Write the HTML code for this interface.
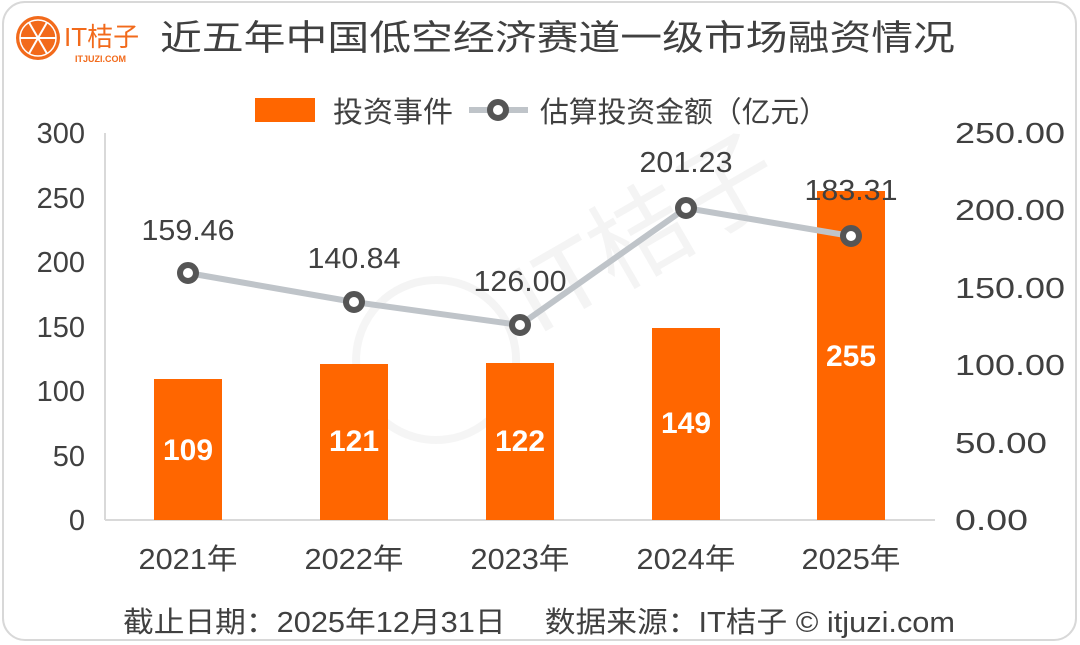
<!DOCTYPE html>
<html><head><meta charset="utf-8"><style>
html,body{margin:0;padding:0;background:#fff;}
svg{display:block;font-family:"Liberation Sans","Noto Sans CJK SC",sans-serif;}
</style></head><body>
<svg width="1080" height="645" viewBox="0 0 1080 645" xmlns="http://www.w3.org/2000/svg">
<rect x="3" y="2" width="1073" height="638" rx="22" fill="#fff" stroke="#d8d8d8" stroke-width="2"/>
<g transform="translate(38,38)">
<circle r="22" fill="#f26a1b"/>
<circle r="18" fill="none" stroke="#fff" stroke-width="1.5"/>
<g stroke="#fff" stroke-width="2">
<line x1="-18" y1="0" x2="18" y2="0"/>
<line x1="-9" y1="-15.6" x2="9" y2="15.6"/>
<line x1="9" y1="-15.6" x2="-9" y2="15.6"/>
</g>
</g>
<text x="64" y="46" font-size="26" fill="#f26a1b">IT桔子</text>
<text x="75" y="62" font-size="9" fill="#f26a1b" font-weight="bold">ITJUZI.COM</text>
<text x="160" y="50" font-size="35" fill="#404040" textLength="795" lengthAdjust="spacingAndGlyphs">近五年中国低空经济赛道一级市场融资情况</text>
<rect x="255" y="98" width="60" height="24" fill="#ff6600"/>
<text x="333" y="122" font-size="29" fill="#404040" textLength="120" lengthAdjust="spacingAndGlyphs">投资事件</text>
<line x1="469" y1="110" x2="528" y2="110" stroke="#bfc4c9" stroke-width="6"/>
<circle cx="498" cy="110" r="8" fill="#fff" stroke="#555" stroke-width="6"/>
<text x="540" y="122" font-size="29" fill="#404040" textLength="288" lengthAdjust="spacingAndGlyphs">估算投资金额（亿元）</text>
<line x1="105" y1="133" x2="105" y2="520" stroke="#d9d9d9" stroke-width="2"/>
<line x1="105" y1="520" x2="935" y2="520" stroke="#d9d9d9" stroke-width="2"/>
<g font-size="29" fill="#404040" text-anchor="end">
<text x="85" y="530">0</text><text x="85" y="466">50</text><text x="85" y="401">100</text>
<text x="85" y="337">150</text><text x="85" y="272">200</text><text x="85" y="208">250</text><text x="85" y="143">300</text>
</g>
<g font-size="29" fill="#404040">
<text x="955" y="530" textLength="73" lengthAdjust="spacingAndGlyphs">0.00</text>
<text x="955" y="453" textLength="92" lengthAdjust="spacingAndGlyphs">50.00</text>
<text x="955" y="375" textLength="110" lengthAdjust="spacingAndGlyphs">100.00</text>
<text x="955" y="298" textLength="110" lengthAdjust="spacingAndGlyphs">150.00</text>
<text x="955" y="220" textLength="110" lengthAdjust="spacingAndGlyphs">200.00</text>
<text x="955" y="143" textLength="110" lengthAdjust="spacingAndGlyphs">250.00</text>
</g>
<g font-size="29" fill="#404040" text-anchor="middle">
<text x="188" y="569" textLength="99" lengthAdjust="spacingAndGlyphs">2021年</text>
<text x="354" y="569" textLength="99" lengthAdjust="spacingAndGlyphs">2022年</text>
<text x="520" y="569" textLength="99" lengthAdjust="spacingAndGlyphs">2023年</text>
<text x="686" y="569" textLength="99" lengthAdjust="spacingAndGlyphs">2024年</text>
<text x="851" y="569" textLength="99" lengthAdjust="spacingAndGlyphs">2025年</text>
</g>
<g opacity="0.04" transform="rotate(-30 540 300)">
<circle cx="420" cy="300" r="80" fill="none" stroke="#000" stroke-width="8"/>
<text x="520" y="330" font-size="100" fill="#000">IT桔子</text>
</g>
<g fill="#ff6600">
<rect x="154" y="379" width="68" height="141"/>
<rect x="320" y="364" width="68" height="156"/>
<rect x="486" y="363" width="68" height="157"/>
<rect x="652" y="328" width="68" height="192"/>
<rect x="817" y="191" width="68" height="329"/>
</g>
<g font-size="30" font-weight="bold" fill="#fff" text-anchor="middle">
<text x="188" y="460">109</text><text x="354" y="451">121</text><text x="520" y="451">122</text>
<text x="686" y="433">149</text><text x="851" y="366">255</text>
</g>
<polyline points="188,273 354,302 520,325 686,208 851,236" fill="none" stroke="#bfc4c9" stroke-width="6"/>
<g fill="#fff" stroke="#555" stroke-width="6">
<circle cx="188" cy="273" r="8"/><circle cx="354" cy="302" r="8"/><circle cx="520" cy="325" r="8"/>
<circle cx="686" cy="208" r="8"/><circle cx="851" cy="236" r="8"/>
</g>
<g font-size="29" fill="#404040" text-anchor="middle">
<text x="188" y="240" textLength="93" lengthAdjust="spacingAndGlyphs">159.46</text>
<text x="354" y="268" textLength="93" lengthAdjust="spacingAndGlyphs">140.84</text>
<text x="520" y="291" textLength="93" lengthAdjust="spacingAndGlyphs">126.00</text>
<text x="686" y="172" textLength="93" lengthAdjust="spacingAndGlyphs">201.23</text>
<text x="851" y="200" textLength="93" lengthAdjust="spacingAndGlyphs">183.31</text>
</g>
<text x="123" y="632" font-size="29" fill="#404040" textLength="832" lengthAdjust="spacingAndGlyphs">截止日期：2025年12月31日　 数据来源：IT桔子 © itjuzi.com</text>
</svg>
</body></html>
